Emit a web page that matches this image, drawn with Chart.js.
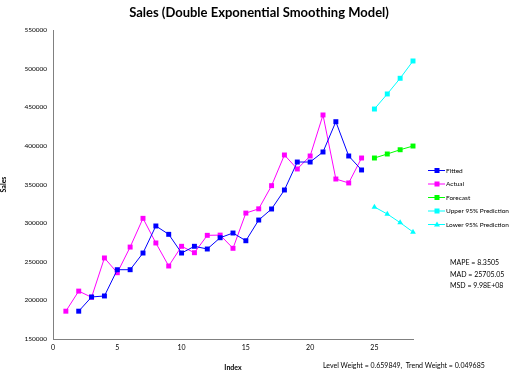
<!DOCTYPE html>
<html>
<head>
<meta charset="utf-8">
<script src="https://cdn.jsdelivr.net/npm/chart.js@4"></script>
<style>
  body { margin: 0; background: #fff; }
  #wrap { position: relative; width: 517px; height: 372px; }
</style>
</head>
<body>
<div id="wrap"><canvas id="salesChart" width="517" height="372"></canvas></div>
<script>
// data
var fittedIdx = [2,3,4,5,6,7,8,9,10,11,12,13,14,15,16,17,18,19,20,21,22,23,24];
var fittedVals = [186000,204400,205700,239700,239700,261300,296300,285500,261300,270000,266500,281100,287200,277200,304000,318300,342900,379100,379100,392100,431300,386900,368800];
var actualIdx = [1,2,3,4,5,6,7,8,9,10,11,12,13,14,15,16,17,18,19,20,21,22,23,24];
var actualVals = [186000,212000,204000,254900,235800,269000,306200,274300,244500,270000,261700,284200,284500,267400,313000,318500,348500,388200,370100,386900,440000,357100,352000,384300];
var forecastIdx = [25,26,27,28];
var forecastVals = [384300,389500,395000,399800];
var upperVals = [447700,467200,487500,509900];
var lowerVals = [320900,311800,300600,288500];
var stats = ['MAPE = 8.3505', 'MAD = 25705.05', 'MSD = 9.98E+08'];
var weightsText = 'Level Weight = 0.659849,  Trend Weight = 0.049685';

function pts(xs, ys) {
    return xs.map(function (x, i) { return { x: x, y: ys[i] }; });
}

var FONT = 'Lato, "Open Sans", sans-serif';

function series(label, xs, ys, color, style) {
    return {
        label: label,
        data: pts(xs, ys),
        borderColor: color,
        backgroundColor: color,
        borderWidth: 1,
        pointStyle: style,
        pointRadius: style === 'triangle' ? 3.3 : 3.5,
        pointBorderWidth: 0,
        showLine: true,
        tension: 0,
        clip: false
    };
}

var datasets = [
    series('Fitted', fittedIdx, fittedVals, '#0000ff', 'rect'),
    series('Actual', actualIdx, actualVals, '#ff00ff', 'rect'),
    series('Forecast', forecastIdx, forecastVals, '#00ff00', 'rect'),
    series('Upper 95% Prediction', forecastIdx, upperVals, '#00ffff', 'rect'),
    series('Lower 95% Prediction', forecastIdx, lowerVals, '#00ffff', 'triangle')
];

// legend, stats and footnote drawn on the canvas
var extras = {
    id: 'extras',
    afterDraw: function (chart) {
        var c = chart.ctx;
        c.save();
        c.fillStyle = '#000';
        c.font = 'bold 13px ' + FONT;
        c.textAlign = 'center';
        c.textBaseline = 'middle';
        c.fillText('Sales (Double Exponential Smoothing Model)', 259, 13);

        var ys = [170.5, 184, 197.5, 211, 224.5];
        c.font = '6.5px ' + FONT;
        c.textAlign = 'left';
        chart.data.datasets.forEach(function (ds, i) {
            var y = ys[i];
            c.strokeStyle = ds.borderColor;
            c.lineWidth = 1;
            c.beginPath();
            c.moveTo(428, y);
            c.lineTo(445, y);
            c.stroke();
            c.fillStyle = ds.borderColor;
            if (ds.pointStyle === 'triangle') {
                c.beginPath();
                c.moveTo(437, y - 3);
                c.lineTo(440, y + 2);
                c.lineTo(434, y + 2);
                c.closePath();
                c.fill();
            } else {
                c.fillRect(434.5, y - 2.5, 5, 5);
            }
            c.fillStyle = '#000';
            c.fillText(ds.label, 446, y);
        });

        c.font = '7px ' + FONT;
        stats.forEach(function (s, i) {
            c.fillText(s, 450, 263 + i * 11.5);
        });
        c.fillText(weightsText, 323, 366);
        c.restore();
    }
};

var ctx = document.getElementById('salesChart').getContext('2d');
var salesChart = new Chart(ctx, {
    type: 'scatter',
    data: { datasets: datasets },
    options: {
        responsive: false,
        animation: false,
        events: [],
        layout: { padding: { top: 30, right: 104, bottom: 0, left: 0 } },
        plugins: {
            legend: { display: false },
            title: { display: false },
            tooltip: { enabled: false }
        },
        scales: {
            x: {
                type: 'linear',
                min: 0,
                max: 28,
                afterBuildTicks: function (scale) {
                    scale.ticks = scale.ticks.filter(function (t) { return t.value % 5 === 0; });
                },
                afterFit: function (scale) { scale.height = 33; },
                grid: { display: false, drawOnChartArea: false, drawTicks: true, tickLength: 3, tickColor: '#808080' },
                border: { display: true, color: '#808080', width: 1 },
                ticks: { stepSize: 5, color: '#000', font: { size: 7, family: FONT }, padding: 2, maxRotation: 0 },
                title: { display: true, text: 'Index', color: '#000', font: { size: 7, weight: 'bold', family: FONT }, padding: { top: 3, bottom: 0 } }
            },
            y: {
                min: 150000,
                max: 550000,
                afterFit: function (scale) { scale.width = 53; },
                grid: { display: false, drawOnChartArea: false, drawTicks: true, tickLength: 3, tickColor: '#808080' },
                border: { display: true, color: '#808080', width: 1 },
                ticks: {
                    stepSize: 50000, color: '#000', font: { size: 6.5, family: FONT }, padding: 3,
                    callback: function (v) { return String(v); }
                },
                title: { display: true, text: 'Sales', color: '#000', font: { size: 7, weight: 'bold', family: FONT }, padding: { top: 0, bottom: 0 } }
            }
        }
    },
    plugins: [extras]
});
</script>
</body>
</html>
